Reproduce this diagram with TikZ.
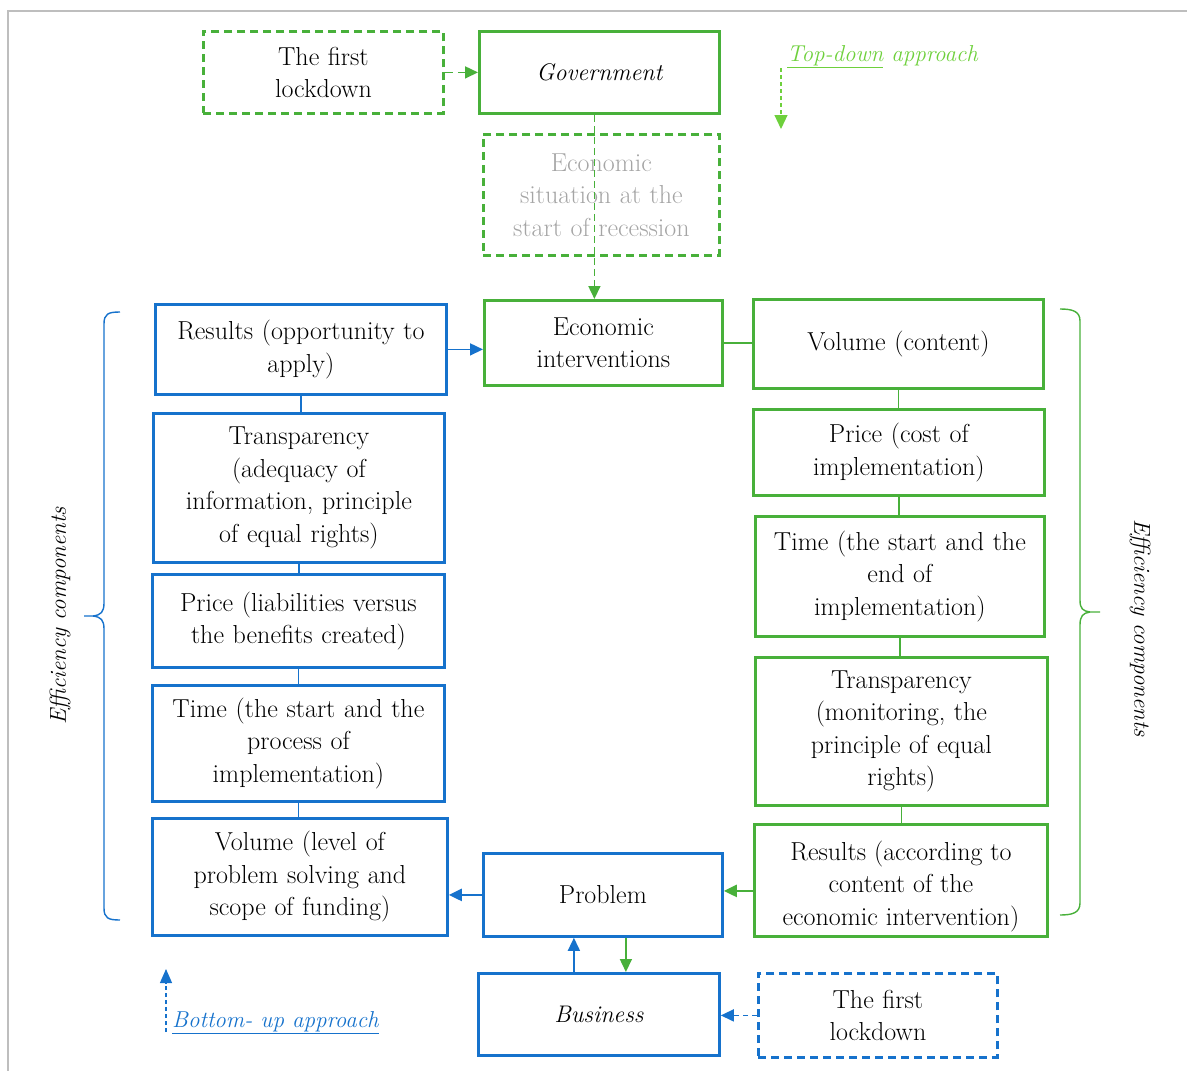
\documentclass[tikz,border=0pt]{standalone}
\usepackage{fontspec}
\setmainfont{Latin Modern Roman}
\usetikzlibrary{arrows.meta,calc}
\definecolor{gr}{RGB}{72,176,58}
\definecolor{lgr}{RGB}{110,208,60}
\definecolor{bl}{RGB}{22,114,204}
\definecolor{gy}{RGB}{165,165,165}
\definecolor{fr}{RGB}{190,190,190}
\tikzset{
  txt/.style={font=\fontsize{26}{32.5}\selectfont, align=center},
  box/.style={txt, draw, line width=2.8pt, inner sep=0pt, anchor=north west},
  gbox/.style={box, draw=gr},
  bbox/.style={box, draw=bl},
  dsh/.style={dash pattern=on 8pt off 5pt},
  gcon/.style={draw=gr, line width=1.6pt},
  bcon/.style={draw=bl, line width=1.6pt},
  tip/.style={-{Triangle[length=13pt,width=12pt]}},
  brace/.style={line width=1.4pt},
  lab/.style={font=\fontsize{23}{28}\selectfont\itshape},
}
\newcommand{\bx}[7]{% style, name, x1, y1, x2, y2, text
  \node[#1, minimum width={#5-#3}, minimum height={#6-#4}, text width={#5-#3-10}] (#2) at (#3,#4) {#7};}
\begin{document}
\begin{tikzpicture}[x=1pt,y=-1pt]
\useasboundingbox (0,0) rectangle (1187,1071);
% frame
\draw[fr, line width=2pt] (8,1071) -- (8,11) -- (1187,11);

% top boxes
\bx{gbox,dsh}{lockA}{202}{30}{442}{112}{The first\\lockdown}
\bx{gbox}{gov}{478}{30}{718}{112}{\fontsize{24}{30}\selectfont\itshape Government}
\bx{gbox,dsh,text=gy}{sit}{482}{133}{718}{254}{Economic\\situation at the\\start of recession}

% middle
\bx{gbox}{interv}{483}{299}{721}{384}{Economic\\interventions}
% right column
\bx{gbox}{volR}{752}{298}{1042}{387}{Volume (content)}
\bx{gbox}{priceR}{752}{408}{1043}{494}{Price (cost of\\implementation)}
\bx{gbox}{timeR}{754}{515}{1043}{635}{Time (the start and the\\end of\\implementation)}
\bx{gbox}{transR}{754}{656}{1046}{804}{Transparency\\(monitoring, the\\principle of equal\\rights)}
\node[gbox, minimum width=293, minimum height=112] (resR) at (753,823) {};
\node[txt, inner sep=0pt] (resRt) at ($(resR.center)+(0,6)$) {Results (according to\\content of the\\economic intervention)};

% left column
\bx{bbox}{resL}{154}{303}{445}{393}{Results (opportunity to\\apply)}
\bx{bbox}{transL}{152}{412}{443}{561}{Transparency\\(adequacy of\\information, principle\\of equal rights)}
\bx{bbox}{priceL}{151}{573}{443}{666}{Price (liabilities versus\\the benefits created)}
\bx{bbox}{timeL}{151}{684}{443}{800}{Time (the start and the\\process of\\implementation)}
\bx{bbox}{volL}{151}{817}{446}{934}{Volume (level of\\problem solving and\\scope of funding)}

% bottom
\bx{bbox}{prob}{482}{852}{721}{935}{Problem}
\bx{bbox}{bus}{477}{972}{718}{1054}{\fontsize{24}{30}\selectfont\itshape Business}
\bx{bbox,dsh}{lockB}{757}{972}{996}{1056}{The first\\lockdown}

% connectors top
\draw[gcon,dsh,tip] (lockA.east) -- (gov.west);
\draw[gcon,dash pattern=on 7pt off 4pt,tip] ([xshift=-5pt]gov.south) -- ([xshift=-5pt]gov.south |- interv.north);
\draw[bcon,tip] (resL.east) -- (resL.east -| interv.west);
\draw[gcon] (interv.east) -- (interv.east -| volR.west);
% right verticals
\draw[gcon] (volR.south) -- (volR.south |- priceR.north);
\draw[gcon] (priceR.south) -- (priceR.south |- timeR.north);
\draw[gcon] (timeR.south) -- (timeR.south |- transR.north);
\draw[gcon] (transR.south) -- (transR.south |- resR.north);
% left verticals
\draw[bcon] (resL.south) -- (resL.south |- transL.north);
\draw[bcon] (transL.south) -- (transL.south |- priceL.north);
\draw[bcon] (priceL.south) -- (priceL.south |- timeL.north);
\draw[bcon] (timeL.south) -- (timeL.south |- volL.north);
% bottom
\coordinate (pr) at ($(prob.east)+(0,-4)$);
\draw[gcon,line width=2.4pt,tip] (pr -| resR.west) -- (pr);
\draw[bcon,line width=2.4pt,tip] (prob.west) -- (prob.west -| volL.east);
\coordinate (bu) at ($(bus.north)+(-25,0)$);
\draw[bcon,tip] (bu) -- (bu |- prob.south);
\coordinate (pd) at ($(prob.south)+(23,0)$);
\draw[gcon,tip] (pd) -- (pd |- bus.north);
\draw[bcon,dash pattern=on 5pt off 4pt,tip] (lockB.west) -- (lockB.west -| bus.east);

% top-down approach
\node[lab, text=lgr, anchor=west, inner sep=0pt] (td) at (787,57) {\underline{Top-down} approach};
\coordinate (tdA) at (781,68);
\coordinate (tdB) at (781,129);
\draw[draw=lgr, line width=1.2pt, dash pattern=on 4pt off 3pt, -{Triangle[length=14pt,width=13pt]}] (tdA) -- (tdB);

% bottom-up approach
\node[lab, text=bl, anchor=west, inner sep=0pt] (bu2) at (172,1023) {\underline{Bottom- up approach}};
\coordinate (buA) at (166,1032);
\coordinate (buB) at (166,969);
\draw[draw=bl, line width=1.2pt, dash pattern=on 4pt off 3pt, -{Triangle[length=14pt,width=12pt]}] (buA) -- (buB);

% braces
\draw[bl, brace] (120,312) .. controls (108,312) and (104,314) .. (104,324) -- (104,603)
   .. controls (104,612) and (101,615) .. (93,616) -- (84,616);
\draw[bl, brace] (93,616) .. controls (101,617) and (104,620) .. (104,629) -- (104,908)
   .. controls (104,918) and (108,920) .. (120,920);
\node[lab, rotate=90] (effL) at (60,616) {Efficiency components};

\draw[gr, brace] (1060,309) .. controls (1072,309) and (1080,311) .. (1080,321) -- (1080,600)
   .. controls (1080,609) and (1083,611) .. (1090,612) -- (1100,612);
\draw[gr, brace] (1090,612) .. controls (1083,613) and (1080,616) .. (1080,625) -- (1080,903)
   .. controls (1080,913) and (1072,915) .. (1060,915);
\node[lab, rotate=-90] (effR) at (1140,628) {Efficiency components};
\end{tikzpicture}
\end{document}
